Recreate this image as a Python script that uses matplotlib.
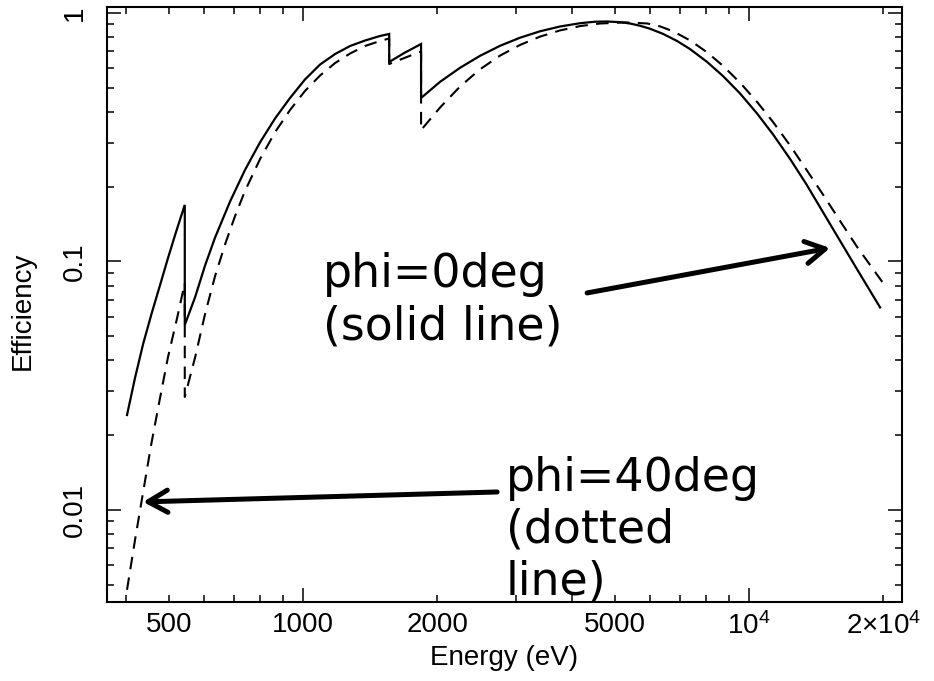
import matplotlib
matplotlib.use("Agg")
import matplotlib.pyplot as plt
from matplotlib.ticker import FixedLocator, FixedFormatter

# Detector efficiency vs photon energy, two incidence angles
solid_energy = [403, 420, 438, 458, 478, 498, 519, 543, 543, 573, 603, 635, 686,
                741, 801, 866, 935, 1010, 1092, 1180, 1275, 1377, 1488, 1560, 1560,
                1693, 1839, 1839, 2029, 2249, 2494, 2765, 3066, 3400, 3770, 4180,
                4515, 4804, 5137, 5411, 5695, 5998, 6416, 6896, 7374, 8050, 8743,
                9545, 10420, 11320, 12360, 13420, 14650, 16000, 17470, 19670]
solid_eff = [0.0241, 0.0340, 0.0466, 0.0621, 0.0804, 0.1033, 0.1314, 0.169,
             0.0555, 0.0720, 0.0964, 0.1249, 0.1743, 0.2335, 0.3018, 0.3770,
             0.4549, 0.5401, 0.6205, 0.6839, 0.7366, 0.7749, 0.8082, 0.8233,
             0.635, 0.6935, 0.750, 0.455, 0.5286, 0.6018, 0.6726, 0.7379, 0.7955,
             0.8442, 0.8825, 0.9097, 0.9225, 0.9242, 0.9187, 0.9070, 0.8886,
             0.8641, 0.8239, 0.7714, 0.7157, 0.6356, 0.5573, 0.4744, 0.3941,
             0.3244, 0.2585, 0.2055, 0.1578, 0.1210, 0.0929, 0.0653]

dashed_energy = [403, 420, 438, 456, 476, 498, 522, 543, 543, 573, 603, 635, 669,
                 704, 741, 801, 866, 935, 1010, 1092, 1180, 1275, 1377, 1488, 1560,
                 1560, 1693, 1839, 1839, 2029, 2249, 2494, 2765, 3066, 3400, 3770,
                 4180, 4634, 5272, 5906, 6316, 6755, 7374, 8050, 8743, 9545, 10420,
                 11320, 12360, 13420, 14650, 16000, 17470, 19970]
dashed_eff = [0.00477, 0.00757, 0.01181, 0.01810, 0.02721, 0.04127, 0.05925,
              0.0819, 0.0285, 0.04127, 0.06148, 0.0874, 0.1176, 0.1524, 0.1922,
              0.2585, 0.3320, 0.4070, 0.4856, 0.5604, 0.6290, 0.6871, 0.7366,
              0.7714, 0.7896, 0.6232, 0.6608, 0.6999, 0.338, 0.4166, 0.5061,
              0.5936, 0.6738, 0.7438, 0.8036, 0.8511, 0.8857, 0.9073, 0.9166,
              0.9078, 0.8833, 0.8442, 0.7757, 0.6948, 0.6125, 0.5242, 0.4388,
              0.3639, 0.2929, 0.2353, 0.1858, 0.1455, 0.1144, 0.0819]

x_major = [1000, 10000]
x_major_labels = ["1000", r"$\mathregular{10^4}$"]
x_minor = [400, 500, 600, 700, 800, 900, 2000, 3000, 4000, 5000, 6000, 7000,
           8000, 9000, 20000]
x_minor_labels = ["", "500", "", "", "", "", "2000", "", "", "5000", "", "", "",
                  "", r"$\mathregular{2{\times}10^4}$"]
y_major = [0.01, 0.1, 1]
y_major_labels = ["0.01", "0.1", "1"]
y_minor = [0.005, 0.006, 0.007, 0.008, 0.009, 0.02, 0.03, 0.04, 0.05, 0.06, 0.07,
           0.08, 0.09, 0.2, 0.3, 0.4, 0.5, 0.6, 0.7, 0.8, 0.9]

plt.rcParams['font.family'] = ['Liberation Sans', 'DejaVu Sans']
plt.rcParams['mathtext.fontset'] = 'custom'
plt.rcParams['mathtext.rm'] = 'Liberation Sans'
plt.rcParams['mathtext.it'] = 'Liberation Sans:italic'
plt.rcParams['mathtext.bf'] = 'Liberation Sans:bold'

fig = plt.figure(figsize=(9.34, 6.81), dpi=100)
ax = fig.add_axes([0.1146, 0.1160, 0.8512, 0.8737])

ax.plot(solid_energy, solid_eff, color='black', lw=1.6, solid_joinstyle='miter')
ax.plot(dashed_energy, dashed_eff, color='black', lw=1.5, linestyle=(0, (6, 4)))

ax.set_xscale('log')
ax.set_yscale('log')
ax.set_xlim(363.5, 22030)
ax.set_ylim(0.00426, 1.057)

ax.xaxis.set_major_locator(FixedLocator(x_major))
ax.xaxis.set_major_formatter(FixedFormatter(x_major_labels))
ax.xaxis.set_minor_locator(FixedLocator(x_minor))
ax.xaxis.set_minor_formatter(FixedFormatter(x_minor_labels))
ax.yaxis.set_major_locator(FixedLocator(y_major))
ax.yaxis.set_major_formatter(FixedFormatter(y_major_labels))
ax.yaxis.set_minor_locator(FixedLocator(y_minor))
ax.yaxis.set_minor_formatter(FixedFormatter([""] * len(y_minor)))

ax.tick_params(which='both', direction='in', top=True, right=True,
               width=1.1, colors='black', labelsize=20)
ax.tick_params(which='major', length=10)
ax.tick_params(which='minor', length=5)
ax.tick_params(axis='x', which='both', pad=7)
ax.tick_params(axis='y', which='both', pad=14, labelrotation=90)
for lab in ax.get_yticklabels():
    lab.set_va('center')

for sp in ax.spines.values():
    sp.set_linewidth(1.5)

ax.set_xlabel("Energy (eV)", fontsize=20, labelpad=4)
ax.set_ylabel("Efficiency", fontsize=20)
ax.yaxis.set_label_coords(-0.09, 0.49)

arrow_kw = dict(arrowstyle='->,head_length=0.7,head_width=0.4', lw=3.6,
                color='black', shrinkA=0, shrinkB=0, mutation_scale=20)
ax.annotate('', xy=(15190, 0.1133), xytext=(4334, 0.0747), arrowprops=arrow_kw)
ax.annotate('', xy=(438, 0.01077), xytext=(2723, 0.01181), arrowprops=arrow_kw)

# anchors sit on the baseline of each label's last line
ax.text(0.2717, 0.442, "phi=0deg\n(solid line)", transform=ax.transAxes,
        fontsize=33, family='DejaVu Sans', va='baseline', ha='left')
ax.text(0.5019, 0.0118, "phi=40deg\n(dotted\nline)", transform=ax.transAxes,
        fontsize=33, family='DejaVu Sans', va='baseline', ha='left')

fig.savefig("out.png", dpi=100)
